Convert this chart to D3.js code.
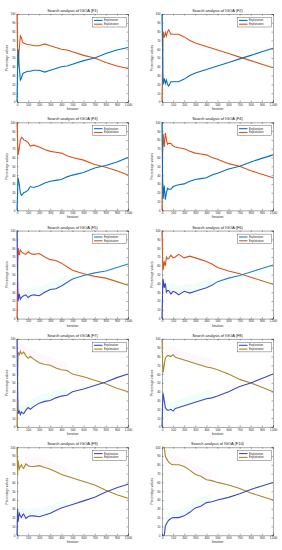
<!DOCTYPE html>
<html><head><meta charset="utf-8">
<script src="https://cdn.jsdelivr.net/npm/d3@7"></script>
<style>body{margin:0;background:#fff}svg{display:block}text{font-family:"Liberation Sans",Arial,sans-serif}</style>
</head><body>
<svg id="c" width="282" height="550"></svg>
<script>
const titles = ["Search analysis of IGOA (F1)","Search analysis of IGOA (F2)","Search analysis of IGOA (F3)","Search analysis of IGOA (F4)","Search analysis of IGOA (F5)","Search analysis of IGOA (F6)","Search analysis of IGOA (F7)","Search analysis of IGOA (F8)","Search analysis of IGOA (F9)","Search analysis of IGOA (F10)"];
const seriesNames = ["Exploration","Exploitation"];
const iters = [0,5,10,20,30,40,50,60,80,100,120,150,200,250,300,350,400,450,500,600,700,800,900,1000];
const xTicks = [0,100,200,300,400,500,600,700,800,900,1000];
const yTicks = [0,10,20,30,40,50,60,70,80,90,100];
const xLabel = "Iteration";
const yLabel = "Percentage values";

const explore = [
 [0,40,60,40,25,27,32,33,34,35,35,36,36,34,36,38,40,41,43,47,50,55,59,62],
 [100,60,20,27,21,25,20,18,23,23,23,23,26,30,33,35,37,39,41,45,49,53,57,61],
 [0,20,37,30,20,17,18,20,21,23,27,26,28,31,33,34,35,38,40,43,48,51,55,60],
 [100,40,13,28,12,20,25,24,24,27,28,29,30,33,35,36,37,40,42,47,50,55,59,63],
 [100,50,20,28,22,24,25,26,27,24,26,27,26,30,33,34,37,41,45,49,52,54,58,62],
 [0,30,45,35,40,30,32,32,28,31,30,27,31,29,31,33,35,38,42,46,49,53,57,61],
 [100,50,15,18,14,17,16,15,19,22,20,23,27,29,30,33,35,36,40,43,47,51,56,60],
 [0,25,38,30,22,20,19,19,20,18,21,22,24,26,28,30,32,33,35,40,46,50,55,60],
 [0,30,15,25,22,20,23,24,19,21,22,22,21,23,25,28,31,33,35,39,43,49,54,58],
 [0,0,0,0,10,13,15,17,19,20,20,20,22,26,31,33,37,38,40,43,47,52,56,60]
];
const exploit = [
 [100,60,40,60,75,73,68,67,66,65,65,64,64,66,64,62,60,59,57,53,50,45,41,38],
 [0,40,80,73,79,75,80,82,77,77,77,77,74,70,67,65,63,61,59,55,51,47,43,39],
 [100,80,63,70,80,83,82,80,79,77,73,74,72,69,67,66,65,62,60,57,52,49,45,40],
 [0,60,87,72,88,80,75,76,76,73,72,71,70,67,65,64,63,60,58,53,50,45,41,37],
 [0,50,80,72,78,76,75,74,73,76,74,73,74,70,67,66,63,59,55,51,48,46,42,38],
 [100,70,55,65,60,70,68,68,72,69,70,73,69,71,69,67,65,62,58,54,51,47,43,39],
 [0,50,85,82,86,83,84,85,81,78,80,77,73,71,70,67,65,64,60,57,53,49,44,40],
 [100,75,62,70,78,80,81,81,80,82,79,78,76,74,72,70,68,67,65,60,54,50,45,40],
 [100,70,85,75,78,80,77,76,81,79,78,78,79,77,75,72,69,67,65,61,57,51,46,42],
 [100,100,100,100,90,87,85,83,81,80,80,80,78,74,69,67,63,62,60,57,53,48,44,40]
];

const svg = d3.select("#c");
const defs = svg.append("defs");
const W = 111, H = 88;

titles.forEach((t, i) => {
  const col = i % 2, row = Math.floor(i / 2);
  const left = col === 0 ? 17 : 162;
  const top = 14 + row * 108.3;
  const g = svg.append("g").attr("transform", `translate(${left},${top})`);
  const x = d3.scaleLinear().domain([0, 1000]).range([0, W]);
  const y = d3.scaleLinear().domain([0, 100]).range([H, 0]);

  let c1, c2;
  if (i < 4) { c1 = "#0072BD"; c2 = "#D95319"; }
  else if (i < 6) {
    const g1 = defs.append("linearGradient").attr("id", "b" + i).attr("gradientUnits", "userSpaceOnUse")
      .attr("x1", 0).attr("x2", W).attr("y1", 0).attr("y2", 0);
    g1.append("stop").attr("offset", "0.35").attr("stop-color", "#3a45c4");
    g1.append("stop").attr("offset", "0.55").attr("stop-color", "#1a86c2");
    const g2 = defs.append("linearGradient").attr("id", "o" + i).attr("gradientUnits", "userSpaceOnUse")
      .attr("x1", 0).attr("x2", W).attr("y1", 0).attr("y2", 0);
    g2.append("stop").attr("offset", "0.7").attr("stop-color", "#D95319");
    g2.append("stop").attr("offset", "1").attr("stop-color", "#a0802a");
    c1 = `url(#b${i})`; c2 = `url(#o${i})`;
  } else { c1 = "#3c48c0"; c2 = "#a8882a"; }

  const pts1 = iters.map((it, k) => [it, explore[i][k]]);
  const pts2 = iters.map((it, k) => [it, exploit[i][k]]);

  // faint shading bands (panels F5-F10)
  if (i >= 4) {
    const early1 = pts1.filter(d => d[0] >= 20 && d[0] <= 450);
    const early2 = pts2.filter(d => d[0] >= 20 && d[0] <= 450);
    const band = d3.area().x(d => x(d[0])).y0(d => y(d[1])).y1(d => y(d[1] + 9)).curve(d3.curveBasis);
    const band2 = d3.area().x(d => x(d[0])).y0(d => y(d[1])).y1(d => y(Math.min(100, d[1] + 10))).curve(d3.curveBasis);
    g.append("path").datum(early1).attr("d", band).attr("fill", "#a8f0f4").attr("opacity", 0.16);
    if (i >= 6) g.append("path").datum(early2).attr("d", band2).attr("fill", "#f8c8e0").attr("opacity", 0.14);
  }

  const xa = d3.axisBottom(x).tickValues(xTicks).tickSize(-1.5).tickPadding(1.5);
  const ya = d3.axisLeft(y).tickValues(yTicks).tickSize(-1.5).tickPadding(1.5);
  const gx = g.append("g").attr("transform", `translate(0,${H})`).call(xa);
  const gy = g.append("g").call(ya);
  const gx2 = g.append("g").call(d3.axisTop(x).tickValues(xTicks).tickSize(-1.5).tickFormat(""));
  const gy2 = g.append("g").attr("transform", `translate(${W},0)`).call(d3.axisRight(y).tickValues(yTicks).tickSize(-1.5).tickFormat(""));
  [gx, gy, gx2, gy2].forEach(a => {
    a.selectAll("path").attr("stroke", "#262626").attr("stroke-width", 0.4);
    a.selectAll("line").attr("stroke", "#262626").attr("stroke-width", 0.4);
    a.selectAll("text").attr("font-size", 3).attr("fill", "#262626");
  });

  const line = d3.line().x(d => x(d[0])).y(d => y(d[1]));
  g.append("path").datum(pts2).attr("d", line).attr("fill", "none").attr("stroke", c2).attr("stroke-width", 1.1);
  g.append("path").datum(pts1).attr("d", line).attr("fill", "none").attr("stroke", c1).attr("stroke-width", 1.1);

  g.append("text").attr("x", W / 2).attr("y", -2).attr("text-anchor", "middle").attr("font-size", 3.9).attr("fill", "#111").text(t);
  g.append("text").attr("x", W / 2).attr("y", H + 8).attr("text-anchor", "middle").attr("font-size", 3.2).attr("fill", "#262626").text(xLabel);
  g.append("text").attr("transform", `translate(-9,${H / 2}) rotate(-90)`).attr("text-anchor", "middle").attr("font-size", 3.2).attr("fill", "#262626").text(yLabel);

  const lg = g.append("g").attr("transform", `translate(${W - 35.5},3.5)`);
  lg.append("rect").attr("width", 34).attr("height", 9.5).attr("fill", "#fff").attr("stroke", "#262626").attr("stroke-width", 0.35);
  [0, 1].forEach(k => {
    const yy = 2.9 + k * 3.8;
    const col = k === 0 ? (i < 4 ? "#0072BD" : i < 6 ? "#1a86c2" : "#3c48c0") : (i < 6 ? "#D95319" : "#a8882a");
    lg.append("line").attr("x1", 1.5).attr("x2", 10).attr("y1", yy).attr("y2", yy).attr("stroke", col).attr("stroke-width", 1.1);
    lg.append("text").attr("x", 11.5).attr("y", yy + 1).attr("font-size", 2.8).attr("fill", "#262626").text(seriesNames[k]);
  });
});
</script>
</body></html>
